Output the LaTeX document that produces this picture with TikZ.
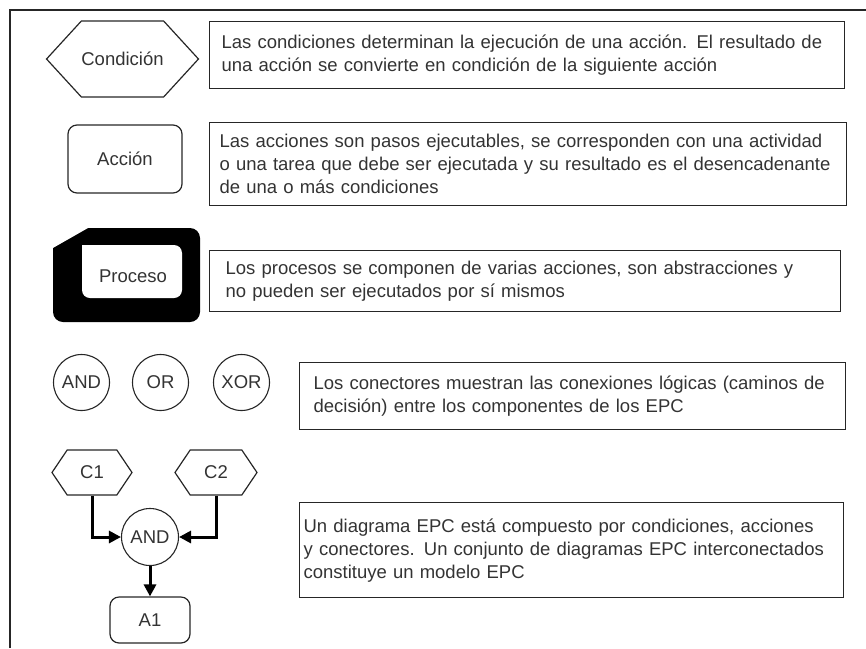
\documentclass[tikz,border=0pt]{standalone}
\usepackage{fontspec}
\setmainfont{Liberation Sans}
\usetikzlibrary{positioning}
\usetikzlibrary{shapes.symbols}
\usetikzlibrary{arrows.meta}
\def\drawcol{black!85}
\def\textcol{black!80}
\def\epcfont{\fontsize{18.5}{23}\selectfont}

\begin{document}
\begin{tikzpicture}[x=1pt,y=-1pt,
	every node/.style={font=\epcfont,text=\textcol},
	cond/.style={draw=\drawcol,line width=1.2pt,signal,signal to=west and east,inner sep=0pt},
	accion/.style={draw=\drawcol,line width=1.2pt,rounded corners=9pt,inner sep=0pt},
	conector/.style={draw=\drawcol,line width=1.1pt,circle,minimum size=56pt,inner sep=0pt},
	expl/.style={draw=\drawcol,line width=1.2pt,anchor=north west,align=left,inner ysep=0pt},
	flow/.style={line width=3pt,black,-{Triangle[length=12pt,width=12pt]}}]
\useasboundingbox (0,0) rectangle (866,648);
% frame
\draw[\drawcol,line width=1.4pt] (10,648) -- (10,10) -- (866,10);
% condicion
\node [cond,signal pointer angle=95,minimum width=141pt,minimum height=76pt] (cond) at (122.5,59) {Condición};
\node [expl,minimum width=635pt,minimum height=67pt,text width=611pt,inner xsep=12pt] (condtxt) at (209,21)
	{Las condiciones determinan la ejecución de una acción. El resultado de\\
	una acción se convierte en condición de la siguiente acción};
% accion
\node [accion,minimum width=114pt,minimum height=68pt] (acc) at (125,159) {Acción};
\node [expl,minimum width=637pt,minimum height=83pt,text width=617pt,inner xsep=10pt] (acctxt) at (209,122)
	{Las acciones son pasos ejecutables, se corresponden con una actividad\\
	o una tarea que debe ser ejecutada y su resultado es el desencadenante\\
	de una o más condiciones};
% proceso
\fill[black,rounded corners=10pt] (53,228) rectangle (200,322);
\fill[white] (52,227) -- (88,227) -- (88,228) -- (52,248.5) -- cycle;
\fill[white,rounded corners=8pt] (82,245) rectangle (182,298);
\fill[white] (82,245) rectangle +(15,15);
\node [inner sep=0pt] (proc) at (133,276) {Proceso};
\node [expl,minimum width=631pt,minimum height=61pt,text width=599pt,inner xsep=16pt] (proctxt) at (209,250)
	{Los procesos se componen de varias acciones, son abstracciones y\\
	no pueden ser ejecutados por sí mismos};
% conectores
\node [conector] (and) at (81.5,382.5) {AND};
\node [conector] (or) at (160.5,382.5) {OR};
\node [conector] (xor) at (241.5,382.5) {XOR};
\node [expl,minimum width=546pt,minimum height=67pt,text width=518pt,inner xsep=14pt] (contxt) at (299,362)
	{Los conectores muestran las conexiones lógicas (caminos de\\
	decisión) entre los componentes de los EPC};
% ejemplo EPC
\node [cond,signal pointer angle=112,minimum width=80pt,minimum height=45pt] (c1) at (92,472.5) {C1};
\node [cond,signal pointer angle=112,minimum width=82pt,minimum height=45pt] (c2) at (216,472.5) {C2};
\node [conector,minimum size=57pt] (and2) at (150,537) {AND};
\node [accion,minimum width=80pt,minimum height=46pt] (a1) at (150,620) {A1};
\draw[flow] (c1.south) |- (and2.west);
\draw[flow] (c2.south) |- (and2.east);
\draw[flow] (and2.south) -- (a1.north);
\node [expl,minimum width=544pt,minimum height=95pt,text width=536pt,inner xsep=4pt] (epctxt) at (299,502)
	{Un diagrama EPC está compuesto por condiciones, acciones\\
	y conectores. Un conjunto de diagramas EPC interconectados\\
	constituye un modelo EPC};
\end{tikzpicture}
\end{document}
